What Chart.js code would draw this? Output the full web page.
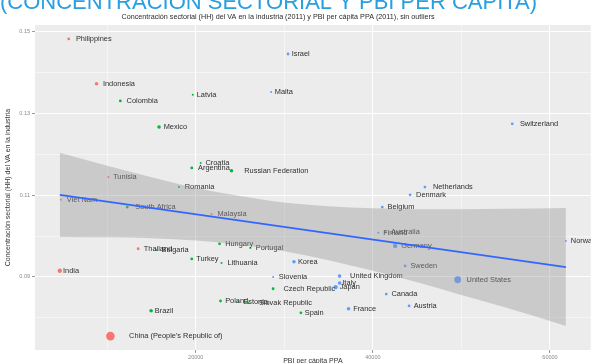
<!DOCTYPE html>
<html><head><meta charset="utf-8">
<script src="https://cdn.jsdelivr.net/npm/chart.js@4.4.0/dist/chart.umd.min.js"></script>
<style>html,body{margin:0;padding:0;background:#fff;overflow:hidden}#wrap{position:relative;width:595px;height:363px}</style>
</head><body><div id="wrap"><canvas id="c" width="595" height="363"></canvas></div>
<script>
const countries = ["Philippines","Israel","Indonesia","Colombia","Latvia","Malta","Mexico","Switzerland","Croatia","Argentina","Russian Federation","Tunisia","Romania","Netherlands","Denmark","Viet Nam","South Africa","Belgium","Malaysia","Finland","Australia","Norway","Germany","Hungary","Portugal","Thailand","Bulgaria","Turkey","Lithuania","Korea","Sweden","India","Slovenia","United Kingdom","United States","Italy","Japan","Czech Republic","Canada","Poland","Estonia","Slovak Republic","Austria","France","Spain","Brazil","China (People's Republic of)"];
const gdpPerCapita = [5658,30420,8796,11485,19664,28515,15854,55742,20560,19552,24034,10140,18095,45882,44202,4762,12269,41064,21790,40616,41400,61793,42521,22689,26162,13501,15520,19552,22913,31092,43641,4650,28739,36246,49580,36246,35798,28739,41513,22801,24818,25938,44090,37255,31877,14958,10364];
const hhConcentration = [0.1483,0.1446,0.1373,0.1331,0.1346,0.1353,0.1267,0.1275,0.1179,0.1167,0.1160,0.1145,0.1120,0.1120,0.1101,0.1089,0.1071,0.1071,0.1054,0.1008,0.1010,0.0988,0.0976,0.0981,0.0971,0.0969,0.0966,0.0944,0.0934,0.0937,0.0927,0.0915,0.0900,0.0902,0.0893,0.0885,0.0875,0.0871,0.0858,0.0841,0.0839,0.0836,0.0829,0.0822,0.0812,0.0817,0.0755];
const groups = ["A","C","A","B","B","C","B","C","B","B","B","A","B","C","C","A","B","C","A","C","C","C","C","B","B","A","B","B","B","C","C","A","C","C","C","C","C","B","C","B","B","B","C","C","B","B","A"];
const sizeLevel = [2,2,3,2,1,1,3,2,1,2,3,1,1,2,2,1,2,2,1,1,2,1,4,2,1,2,1,2,1,3,2,4,1,3,5,3,4,2,2,2,1,1,2,3,2,3,6];
const fitX = [4650, 61800];
const fitY = [0.1101, 0.0924];
const bandX = [4650,10000,15000,20000,25000,30000,35000,40000,45000,50000,55000,61800];
const bandUpper = [0.1204,0.1172,0.1144,0.1118,0.1098,0.1082,0.1073,0.1068,0.1066,0.1066,0.1067,0.1069];
const bandLower = [0.0998,0.0997,0.0995,0.0989,0.0979,0.0963,0.0941,0.0915,0.0887,0.0856,0.0825,0.0780];
const xTicks = [10000,20000,30000,40000,50000,60000];
const xTickLabels = ["","20000","","40000","","60000"];
const yTicks = [0.08,0.09,0.10,0.11,0.12,0.13,0.14,0.15];
const yTickLabels = ["","0.09","","0.11","","0.13","","0.15"];
const chartTitle = "Concentración sectorial (HH) del VA en la industria (2011) y PBI per cápita PPA (2011), sin outliers";
const xTitle = "PBI per cápita PPA";
const yTitle = "Concentración sectorial (HH) del VA en la industria";
const headerText = "(CONCENTRACIÓN SECTORIAL Y PBI PER CÁPITA)";

const groupColor = {A:"#F8766D", B:"#00BA38", C:"#619CFF"};
const radiusFor = [0,1.0,1.4,1.8,2.2,3.4,4.3];
const FONT = "'Liberation Sans', Arial, sans-serif";

const points = countries.map((c,i)=>({x:gdpPerCapita[i], y:hhConcentration[i]}));

const decor = {
  id:'decor',
  beforeDraw(chart){
    const {ctx, chartArea:a} = chart;
    ctx.save();
    ctx.fillStyle = '#ECECEC';
    ctx.fillRect(a.left, a.top, a.right-a.left, a.bottom-a.top);
    ctx.restore();
  },
  afterDatasetDraw(chart, args){
    if (args.index !== 0) return;
    const ctx = chart.ctx, xs = chart.scales.x, ys = chart.scales.y;
    ctx.save();
    ctx.beginPath(); ctx.rect(chart.chartArea.left, chart.chartArea.top, chart.chartArea.right-chart.chartArea.left, chart.chartArea.bottom-chart.chartArea.top); ctx.clip();
    ctx.font = "7.4px " + FONT;
    ctx.fillStyle = '#2e2e2e';
    ctx.textBaseline = 'middle';
    countries.forEach((c,i)=>{
      const px = xs.getPixelForValue(gdpPerCapita[i]);
      const py = ys.getPixelForValue(hhConcentration[i]);
      const w = ctx.measureText(c).width;
      ctx.fillText(c, px + 0.2*w, py);
    });
    ctx.restore();
  },
  afterDraw(chart){
    const ctx = chart.ctx, a = chart.chartArea;
    ctx.save();
    ctx.fillStyle = '#2A9FE0';
    ctx.font = "22px " + FONT;
    ctx.textBaseline = 'alphabetic';
    ctx.textAlign = 'left';
    ctx.fillText(headerText, 0, 9);
    ctx.fillStyle = '#2b2b2b';
    ctx.font = "7.2px " + FONT;
    ctx.textAlign = 'center';
    ctx.textBaseline = 'middle';
    ctx.fillText(chartTitle, 278, 17);
    ctx.fillStyle = '#333';
    ctx.font = "7px " + FONT;
    ctx.textBaseline = 'top';
    ctx.fillText(xTitle, (a.left+a.right)/2, 358);
    ctx.translate(8, (a.top+a.bottom)/2);
    ctx.rotate(-Math.PI/2);
    ctx.textBaseline = 'middle';
    ctx.fillText(yTitle, 0, 0);
    ctx.restore();
  }
};

function gridOpts(labels){
  return {
    color: '#FFFFFF',
    lineWidth: c => (c.index !== undefined && labels[c.index]) ? 1 : 0.5,
    tickLength: 3,
    tickColor: c => (c.index !== undefined && labels[c.index]) ? '#9a9a9a' : 'rgba(0,0,0,0)',
    drawTicks: true
  };
}

new Chart(document.getElementById('c'), {
  type: 'scatter',
  data: {
    datasets: [
      {
        type:'scatter', data: points, order: 3,
        pointRadius: countries.map((c,i)=>radiusFor[sizeLevel[i]]),
        pointBackgroundColor: groups.map(g=>groupColor[g]),
        pointBorderWidth: 0, pointBorderColor: 'rgba(0,0,0,0)'
      },
      {
        type:'line', data: bandX.map((x,i)=>({x, y:bandUpper[i]})), order: 2,
        borderWidth: 0, pointRadius: 0, fill: '+1', backgroundColor: 'rgba(153,153,153,0.4)', cubicInterpolationMode: 'monotone', showLine: true
      },
      {
        type:'line', data: bandX.map((x,i)=>({x, y:bandLower[i]})), order: 2,
        borderWidth: 0, pointRadius: 0, fill: false, cubicInterpolationMode: 'monotone', showLine: true
      },
      {
        type:'line', data: fitX.map((x,i)=>({x, y:fitY[i]})), order: 1,
        borderColor: '#3366FF', borderWidth: 1.6, pointRadius: 0, fill: false, showLine: true
      }
    ]
  },
  options: {
    responsive: false, animation: false, devicePixelRatio: 1,
    layout: { padding: { top: 25, left: 0, right: 0, bottom: 0 } },
    plugins: { legend: {display:false}, tooltip: {enabled:false}, title: {display:false} },
    scales: {
      x: {
        type:'linear', min: 1849, max: 64600,
        afterBuildTicks: s => { s.ticks = xTicks.map(v=>({value:v})); },
        afterFit: s => { s.height = 13; },
        ticks: { callback: (v,i) => xTickLabels[i], font:{size:5.5, family:FONT}, color:'#8a8a8a', padding: 1, maxRotation:0, autoSkip:false },
        grid: gridOpts(xTickLabels),
        border: { display:false }
      },
      y: {
        type:'linear', min: 0.0721, max: 0.1517,
        afterBuildTicks: s => { s.ticks = yTicks.map(v=>({value:v})); },
        afterFit: s => { s.width = 35; },
        ticks: { callback: (v,i) => yTickLabels[i], font:{size:5.5, family:FONT}, color:'#8a8a8a', padding: 2, autoSkip:false },
        grid: gridOpts(yTickLabels),
        border: { display:false }
      }
    }
  },
  plugins: [decor]
});
</script></body></html>
